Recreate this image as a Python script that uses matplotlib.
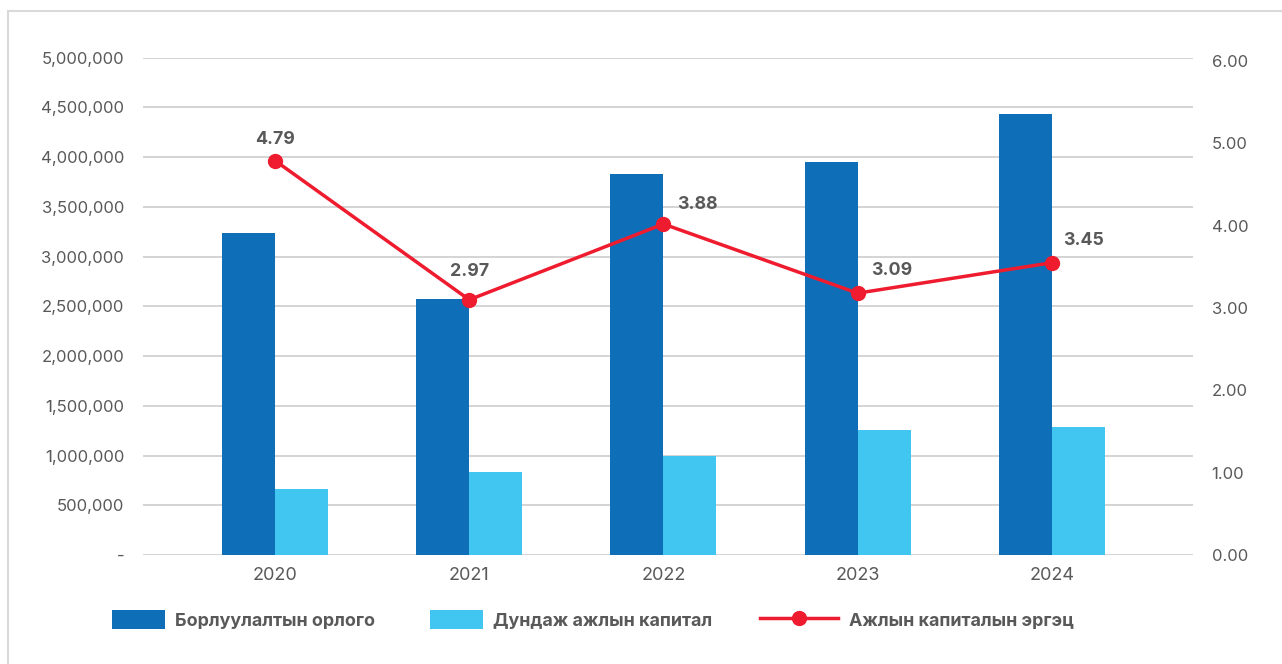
import matplotlib
matplotlib.use("Agg")
import matplotlib.pyplot as plt
from matplotlib.patches import Rectangle, Patch
from matplotlib.lines import Line2D
from matplotlib.ticker import FuncFormatter, MultipleLocator

plt.rcParams['font.family'] = ['Inter', 'DejaVu Sans']

# ---- data ----
years = ["2020", "2021", "2022", "2023", "2024"]
sales_revenue = [3233000, 2570000, 3835000, 3956000, 4438000]      # Борлуулалтын орлого
avg_working_capital = [663000, 833000, 1000000, 1255000, 1285000]  # Дундаж ажлын капитал
turnover_points = [4.79, 3.10, 4.02, 3.18, 3.55]                   # Ажлын капиталын эргэц (plotted)
turnover_labels = ["4.79", "2.97", "3.88", "3.09", "3.45"]         # data labels as shown

series_names = ["Борлуулалтын орлого", "Дундаж ажлын капитал", "Ажлын капиталын эргэц"]

# ---- style ----
C_DARK = "#0E6EB8"
C_LIGHT = "#41C6F2"
C_RED = "#EE1C2E"
C_TEXT = "#595959"
C_GRID = "#C9C9C9"
label_offsets_px = [(0, 21), (0, 28), (34, 20), (34, 23), (32, 22)]

W, H = 1282, 664
fig = plt.figure(figsize=(W / 100, H / 100), dpi=100)

# outer frame
fig.patches.append(Rectangle((8 / W, -0.1), 1.2, (H - 11) / H + 0.1,
                             transform=fig.transFigure, fill=False,
                             edgecolor="#D9D9D9", linewidth=1.5))

ax = fig.add_axes([143 / W, 1 - 555 / H, (1193 - 143) / W, (555 - 57.7) / H])
ax2 = ax.twinx()

x = list(range(len(years)))
bw = 0.273
ax.bar([i - bw / 2 for i in x], sales_revenue, width=bw, color=C_DARK, zorder=3)
ax.bar([i + bw / 2 for i in x], avg_working_capital, width=bw, color=C_LIGHT, zorder=3)

ax.set_xlim(-0.68, 4.727)
ax.set_ylim(0, 5000000)
ax.yaxis.set_major_locator(MultipleLocator(500000))
ax.yaxis.set_major_formatter(FuncFormatter(lambda v, p: "-" if v == 0 else f"{v:,.0f}"))
ax.grid(axis="y", color=C_GRID, linewidth=1.1, zorder=0)
ax.set_axisbelow(True)
ax.set_xticks(x)
ax.set_xticklabels(years)
for s in ax.spines.values():
    s.set_visible(False)
for s in ax2.spines.values():
    s.set_visible(False)
ax.tick_params(axis="y", length=0, colors=C_TEXT, labelsize=12, pad=13.5)
ax.tick_params(axis="x", length=0, colors=C_TEXT, labelsize=13, pad=9)

ax2.plot(x, turnover_points, color=C_RED, linewidth=2.5, marker="o",
         markersize=10, zorder=5)
ax2.set_ylim(0, 6.04)
ax2.yaxis.set_major_locator(MultipleLocator(1))
ax2.yaxis.set_major_formatter(FuncFormatter(lambda v, p: f"{v:.2f}"))
ax2.tick_params(axis="y", length=0, colors=C_TEXT, labelsize=12, pad=13.5)

for i, (v, lab) in enumerate(zip(turnover_points, turnover_labels)):
    dx, dy = label_offsets_px[i]
    ax2.annotate(lab, (i, v), xytext=(dx * 0.72, dy * 0.72), textcoords="offset points",
                 ha="center", va="center", fontsize=12.8, fontweight="bold", color=C_TEXT)

# legend: three single-entry legends positioned like the original
leg_kw = dict(frameon=False, fontsize=12.9, labelcolor=C_TEXT, handletextpad=0.6,
              borderaxespad=0, borderpad=0)
h1 = Patch(facecolor=C_DARK, edgecolor="none")
h2 = Patch(facecolor=C_LIGHT, edgecolor="none")
h3 = Line2D([], [], color=C_RED, linewidth=2.5, marker="o", markersize=10)
specs = [(h1, series_names[0], 112, 2.94), (h2, series_names[1], 430, 2.94),
         (h3, series_names[2], 760, 4.37)]
for h, name, xl, hl in specs:
    lg = fig.legend([h], [name], loc="center left",
                    bbox_to_anchor=(xl / W, 1 - 620 / H), handlelength=hl,
                    handleheight=1.28, **leg_kw)
    for t in lg.get_texts():
        t.set_fontweight("bold")

fig.savefig("out.png", dpi=100)
